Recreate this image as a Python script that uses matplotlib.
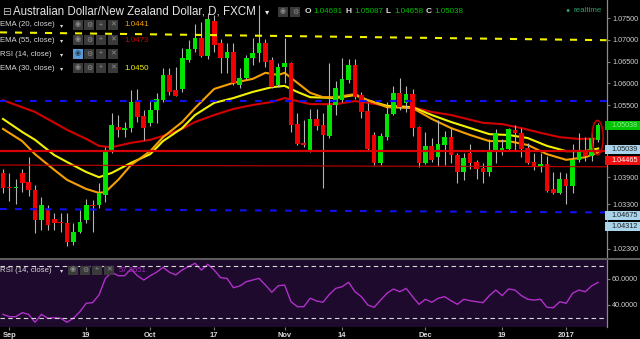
import matplotlib.pyplot as plt
from matplotlib.patches import Rectangle, Ellipse
from matplotlib.lines import Line2D
from matplotlib.transforms import blended_transform_factory

plt.rcParams['font.family'] = ['Liberation Sans', 'DejaVu Sans']

# ---------------- data (AUD/NZD, daily, FXCM) ----------------
opens = [1.0394, 1.0361, 1.0359, 1.0394, 1.0373, 1.0355, 1.0286, 1.0311, 1.0288, 1.0280,
         1.0279, 1.0235, 1.0258, 1.0286, 1.0320, 1.0320, 1.0343, 1.0442, 1.0499, 1.0493,
         1.0497, 1.0557, 1.0525, 1.0509, 1.0539, 1.0561, 1.0619, 1.0584, 1.0587, 1.0653,
         1.0679, 1.0704, 1.0663, 1.0743, 1.0693, 1.0658, 1.0672, 1.0596, 1.0612, 1.0658,
         1.0670, 1.0693, 1.0653, 1.0596, 1.0637, 1.0647, 1.0506, 1.0463, 1.0444, 1.0518,
         1.0504, 1.0479, 1.0550, 1.0561, 1.0607, 1.0642, 1.0573, 1.0536, 1.0481, 1.0417,
         1.0476, 1.0529, 1.0578, 1.0555, 1.0575, 1.0499, 1.0417, 1.0456, 1.0430, 1.0458,
         1.0476, 1.0435, 1.0396, 1.0440, 1.0419, 1.0405, 1.0396, 1.0444, 1.0447, 1.0449,
         1.0493, 1.0486, 1.0451, 1.0419, 1.0407, 1.0414, 1.0357, 1.0348, 1.0380, 1.0364,
         1.0424, 1.0447, 1.0433, 1.04691]
highs = [1.0403, 1.0394, 1.0380, 1.0403, 1.0430, 1.0366, 1.0339, 1.0320, 1.0302, 1.0302,
         1.0302, 1.0279, 1.0309, 1.0334, 1.0332, 1.0371, 1.0453, 1.0532, 1.0527, 1.0511,
         1.0584, 1.0587, 1.0539, 1.0561, 1.0578, 1.0635, 1.0635, 1.0637, 1.0681, 1.0699,
         1.0736, 1.0741, 1.0761, 1.0757, 1.0702, 1.0693, 1.0693, 1.0635, 1.0665, 1.0704,
         1.0780, 1.0702, 1.0660, 1.0647, 1.0704, 1.0649, 1.0532, 1.0516, 1.0541, 1.0541,
         1.0532, 1.0647, 1.0605, 1.0658, 1.0656, 1.0656, 1.0580, 1.0555, 1.0488, 1.0486,
         1.0557, 1.0594, 1.0612, 1.0594, 1.0587, 1.0502, 1.0488, 1.0474, 1.0516, 1.0490,
         1.0497, 1.0440, 1.0440, 1.0460, 1.0424, 1.0417, 1.0472, 1.0495, 1.0472, 1.0497,
         1.0504, 1.0497, 1.0463, 1.0440, 1.0440, 1.0433, 1.0396, 1.0396, 1.0394, 1.0460,
         1.0486, 1.0476, 1.0488, 1.05087]
lows = [1.0348, 1.0329, 1.0322, 1.0350, 1.0341, 1.0256, 1.0263, 1.0263, 1.0263, 1.0258,
        1.0226, 1.0228, 1.0256, 1.0279, 1.0258, 1.0313, 1.0327, 1.0440, 1.0476, 1.0476,
        1.0488, 1.0511, 1.0470, 1.0502, 1.0509, 1.0557, 1.0573, 1.0571, 1.0580, 1.0649,
        1.0672, 1.0660, 1.0656, 1.0672, 1.0624, 1.0624, 1.0596, 1.0589, 1.0610, 1.0642,
        1.0649, 1.0637, 1.0589, 1.0591, 1.0601, 1.0488, 1.0458, 1.0453, 1.0442, 1.0493,
        1.0359, 1.0474, 1.0527, 1.0557, 1.0601, 1.0564, 1.0520, 1.0444, 1.0412, 1.0412,
        1.0470, 1.0527, 1.0539, 1.0534, 1.0479, 1.0407, 1.0414, 1.0419, 1.0410, 1.0412,
        1.0417, 1.0371, 1.0378, 1.0403, 1.0380, 1.0371, 1.0387, 1.0417, 1.0435, 1.0444,
        1.0447, 1.0430, 1.0414, 1.0401, 1.0396, 1.0350, 1.0345, 1.0345, 1.0322, 1.0348,
        1.0419, 1.0421, 1.0421, 1.04658]
closes = [1.0359, 1.0359, 1.0361, 1.0371, 1.0355, 1.0286, 1.0320, 1.0274, 1.0279, 1.0279,
          1.0235, 1.0258, 1.0281, 1.0320, 1.0318, 1.0348, 1.0442, 1.0504, 1.0493, 1.0497,
          1.0557, 1.0522, 1.0497, 1.0539, 1.0564, 1.0619, 1.0580, 1.0571, 1.0658, 1.0679,
          1.0704, 1.0663, 1.0748, 1.0688, 1.0658, 1.0672, 1.0601, 1.0612, 1.0658, 1.0670,
          1.0693, 1.0649, 1.0591, 1.0637, 1.0647, 1.0504, 1.0460, 1.0458, 1.0518, 1.0502,
          1.0481, 1.0550, 1.0589, 1.0610, 1.0642, 1.0568, 1.0534, 1.0449, 1.0417, 1.0479,
          1.0529, 1.0578, 1.0545, 1.0575, 1.0497, 1.0417, 1.0456, 1.0424, 1.0460, 1.0476,
          1.0435, 1.0396, 1.0428, 1.0417, 1.0403, 1.0396, 1.0444, 1.0486, 1.0451, 1.0495,
          1.0486, 1.0449, 1.0417, 1.0407, 1.0414, 1.0352, 1.0348, 1.0380, 1.0364, 1.0424,
          1.0442, 1.0433, 1.0474, 1.05038]

ema20_idx = [0, 3, 5, 8, 10, 13, 15, 16, 18, 20, 23, 25, 28, 30, 33, 36, 39, 41, 43, 44,
             46, 48, 50, 52, 55, 57, 60, 64, 67, 70, 73, 76, 79, 82, 85, 88, 91, 93]
ema20 = [1.0495, 1.0467, 1.0437, 1.0401, 1.0378, 1.0357, 1.0348, 1.0350, 1.0378, 1.0412,
         1.0444, 1.0476, 1.0511, 1.0543, 1.0587, 1.0601, 1.0610, 1.0624, 1.0619, 1.0624,
         1.0601, 1.0578, 1.0568, 1.0568, 1.0575, 1.0561, 1.0545, 1.0543, 1.0518, 1.0497,
         1.0481, 1.0467, 1.0467, 1.0458, 1.0437, 1.0424, 1.0430, 1.0441]

ema30_idx = [0, 3, 5, 8, 10, 13, 15, 17, 20, 23, 25, 28, 30, 33, 36, 39, 42, 44, 46, 48,
             52, 55, 57, 60, 64, 67, 70, 73, 76, 79, 82, 85, 88, 91, 93]
ema30 = [1.0518, 1.0488, 1.0470, 1.0435, 1.0419, 1.0396, 1.0384, 1.0394, 1.0417, 1.0437,
         1.0467, 1.0497, 1.0527, 1.0555, 1.0566, 1.0580, 1.0591, 1.0594, 1.0580, 1.0568,
         1.0566, 1.0573, 1.0561, 1.0548, 1.0545, 1.0527, 1.0511, 1.0497, 1.0483, 1.0481,
         1.0474, 1.0456, 1.0444, 1.0444, 1.0450]

ema55_idx = [0, 5, 10, 13, 15, 17, 20, 23, 25, 28, 30, 33, 36, 39, 42, 44, 46, 48, 52, 55,
             57, 60, 64, 67, 70, 75, 78, 81, 84, 87, 90, 93]
ema55 = [1.0561, 1.0534, 1.0493, 1.0472, 1.0456, 1.0453, 1.0463, 1.0470, 1.0479, 1.0495,
         1.0511, 1.0527, 1.0541, 1.0550, 1.0557, 1.0566, 1.0559, 1.0552, 1.0552, 1.0559,
         1.0555, 1.0548, 1.0545, 1.0534, 1.0527, 1.0509, 1.0506, 1.0497, 1.0486, 1.0476,
         1.0472, 1.0473]

rsi = [32.8, 31.0, 31.0, 34.1, 32.8, 26.7, 32.8, 29.8, 30.2, 29.8,
       26.7, 29.8, 34.8, 41.3, 41.8, 47.7, 60.5, 65.2, 62.5, 62.5,
       67.7, 62.5, 59.2, 62.5, 65.2, 69.0, 65.2, 63.1, 67.0, 69.5,
       72.1, 66.9, 71.3, 66.9, 61.0, 60.5, 53.3, 54.6, 57.9, 59.2,
       60.5, 55.4, 49.8, 54.8, 55.4, 42.5, 38.7, 38.7, 45.2, 43.1,
       42.1, 48.2, 52.8, 54.1, 57.5, 50.2, 46.4, 40.0, 38.2, 43.8,
       49.0, 52.3, 50.2, 52.8, 46.4, 40.5, 44.4, 42.1, 45.2, 46.4,
       43.3, 40.5, 44.4, 43.3, 42.5, 41.8, 47.2, 51.5, 47.2, 52.3,
       51.5, 47.2, 44.4, 43.8, 44.4, 38.2, 37.9, 42.5, 41.3, 49.0,
       51.5, 50.2, 54.8, 57.37]

# drawn levels (left end, right end)
yellow_trend = [1.0717, 1.0699]
blue_upper = [1.0560, 1.0560]
blue_lower = [1.0311, 1.0303]
red_thick = [1.0445, 1.0445]
red_thin = [1.0412, 1.0408]

date_idx = [1, 13, 23, 33, 44, 53, 66, 78, 88]
date_lbl = ['Sep', '19', 'Oct', '17', 'Nov', '14', 'Dec', '19', '2017']

price_ticks = [1.075, 1.070, 1.065, 1.060, 1.055, 1.0384, 1.0322, 1.0219]
price_lbls = ['1.07500', '1.07000', '1.06500', '1.06000', '1.05500', '1.03900', '1.03300', '1.02300']

box_pos = [1.05038, 1.0448, 1.0422, 1.0295, 1.0270]
box_lbl = ['1.05038', '1.05039', '1.04465', '1.04675', '1.04312']
box_bg = ['#00c400', '#a8d4ec', '#ee1010', '#a8d4ec', '#a8d4ec']
box_fg = ['#8ee88e', '#202020', 'white', '#202020', '#202020']

# ---------------- figure ----------------
W, H = 640, 339
fig = plt.figure(figsize=(6.4, 3.39), dpi=100, facecolor='black')


def px(x, y):
    return x / W, 1 - y / H


def put(x, y, s, **kw):
    kw.setdefault('va', 'center')
    kw.setdefault('ha', 'left')
    fig.text(*px(x, y), s, **kw)


def icon(x, y, glyph, bg='#3a3a3a', fg='#8e8e8e'):
    fig.add_artist(Rectangle(px(x, y + 4.5), 10 / W, 9 / H, transform=fig.transFigure,
                             facecolor=bg, lw=0))
    put(x + 5, y, glyph, ha='center', fontsize=5, color=fg)


x0, x1 = -0.47, 94.3
ax = fig.add_axes([0, px(0, 258)[1], 606.5 / W, 258 / H])
ax.set_facecolor('black')
ax.set_xlim(x0, x1)
ax.set_ylim(1.01983, 1.07914)

idx = list(range(len(opens)))
colors = ['#00e400' if c >= o else '#f00000' for o, c in zip(opens, closes)]
bottoms = [min(o, c) for o, c in zip(opens, closes)]
heights = [max(abs(c - o), 0.0003) for o, c in zip(opens, closes)]
ax.vlines(idx, lows, highs, colors='#b4b4b4', lw=0.8, zorder=3)
ax.bar(idx, heights, bottom=bottoms, width=0.72, color=colors, lw=0, zorder=4)

ax.plot(ema55_idx, ema55, color='#d20000', lw=1.5, zorder=2)
ax.plot(ema30_idx, ema30, color='#f2f200', lw=1.5, zorder=2)
ax.plot(ema20_idx, ema20, color='#f5a000', lw=1.5, zorder=2)

ax.plot([x0, x1], yellow_trend, color='#f0f000', lw=1.5, dashes=(3.4, 3.8), zorder=5)
ax.plot([x0, x1], blue_upper, color='#1010f0', lw=1.5, dashes=(3.2, 4.0), zorder=5)
ax.plot([x0, x1], blue_lower, color='#1010f0', lw=1.5, dashes=(3.2, 4.0), zorder=5)
ax.plot([x0, x1], red_thick, color='#d80000', lw=1.6, zorder=5)
ax.plot([x0, x1], red_thin, color='#c80000', lw=0.8, zorder=5)

ax.add_patch(Ellipse((92.9, 1.0475), 1.75, 0.0079, fill=False, edgecolor='#c00000',
                     lw=1.2, zorder=6))

ax.yaxis.tick_right()
ax.set_yticks(price_ticks, price_lbls)
ax.tick_params(axis='y', labelcolor='#d0d0d0', color='#7a7a7a', labelsize=5.2,
               length=2, width=0.8, pad=2)
ax.tick_params(axis='x', bottom=False, labelbottom=False)
for s in ['top', 'left', 'bottom']:
    ax.spines[s].set_visible(False)
ax.spines['right'].set_color('#8a8a8a')
ax.spines['right'].set_linewidth(0.9)

tr = blended_transform_factory(ax.transAxes, ax.transData)
for p, lbl, bg, fg in zip(box_pos, box_lbl, box_bg, box_fg):
    ax.add_patch(Rectangle((0.998, p - 0.00103), 0.06, 0.00206, transform=tr,
                           facecolor=bg, lw=0, clip_on=False, zorder=7))
    ax.text(1.0085, p, lbl, transform=tr, fontsize=5.2, color=fg, va='center',
            ha='left', clip_on=False, zorder=8)

# ---------------- RSI panel ----------------
rax = fig.add_axes([0, px(0, 327)[1], 606.5 / W, 67 / H])
rax.set_facecolor('#1d0a2d')
rax.set_xlim(x0, x1)
rax.set_ylim(23.08, 74.6)
rax.plot(idx, rsi, color='#b030c8', lw=1.0)
for lvl in (70, 30):
    rax.axhline(lvl, color='#d8d8d8', lw=0.8, dashes=(4, 3))
rax.yaxis.tick_right()
rax.set_yticks([60, 40], ['60.0000', '40.0000'])
rax.tick_params(axis='y', labelcolor='#d0d0d0', color='#7a7a7a', labelsize=5.2,
                length=2, width=0.8, pad=2)
rax.set_xticks(date_idx, date_lbl)
rax.tick_params(axis='x', labelcolor='#dcdcdc', color='#7a7a7a', labelsize=5.4,
                length=2, width=0.8, pad=1.5)
for lab in rax.get_xticklabels():
    lab.set_fontweight('bold')
for s in ['top', 'left', 'bottom']:
    rax.spines[s].set_visible(False)
rax.spines['right'].set_color('#8a8a8a')
rax.spines['right'].set_linewidth(0.9)

fig.add_artist(Line2D([0, 1], [px(0, 258.5)[1]] * 2, transform=fig.transFigure,
                      color='#5c5c5c', lw=1.5))

# ---------------- header / legend ----------------
put(6, 12, '⊟', fontsize=7.5, color='#c8c8c8', ha='center')
put(13, 12, 'Australian Dollar/New Zealand Dollar, D, FXCM', fontsize=8.3, color='#e6e6e6')
put(265, 12.5, '▾', fontsize=6, color='#e6e6e6')
icon(278, 12, '◉')
icon(290, 12, '⚙')
ohlc = [('O', 305, '1.04691', 313), ('H', 346, '1.05087', 354),
        ('L', 386, '1.04658', 394), ('C', 426, '1.05038', 434)]
for k, kx, v, vx in ohlc:
    put(kx, 11.5, k, fontsize=6, color='#e0e0e0', fontweight='bold')
    put(vx, 11.5, v, fontsize=5.8, color='#00c000')
put(568, 11, '●', fontsize=5, color='#2f9d6b', ha='center')
put(574, 11, 'realtime', fontsize=5.8, color='#2f9d6b')

legend_rows = [('EMA (20, close)', 25, '1.0441', '#f5a000'),
               ('EMA (55, close)', 40, '1.0473', '#cc0000'),
               ('RSI (14, close)', 54, None, None),
               ('EMA (30, close)', 68, '1.0450', '#f0f000')]
for name, y, val, col in legend_rows:
    put(0, y, name, fontsize=5.6, color='#d8d8d8')
    put(60, y + 0.5, '▾', fontsize=4.5, color='#d8d8d8')
    if val is None:
        icon(73, y, '◉', bg='#5b9bd5', fg='#20405a')
    else:
        icon(73, y, '◉')
    icon(84, y, '⚙')
    icon(96, y, '+')
    icon(108, y, '✕')
    if val is not None:
        put(124, y, val, fontsize=5.8, color=col)

put(0, 270, 'RSI (14, close)', fontsize=5.6, color='#d8d8d8')
put(60, 270.5, '▾', fontsize=4.5, color='#d8d8d8')
icon(68, 270, '◉')
icon(80, 270, '⚙')
icon(92, 270, '+')
icon(104, 270, '✕')
put(119, 270, '57.3651', fontsize=5.6, color='#a828c0')

fig.savefig('out.png', dpi=100, facecolor='black')
